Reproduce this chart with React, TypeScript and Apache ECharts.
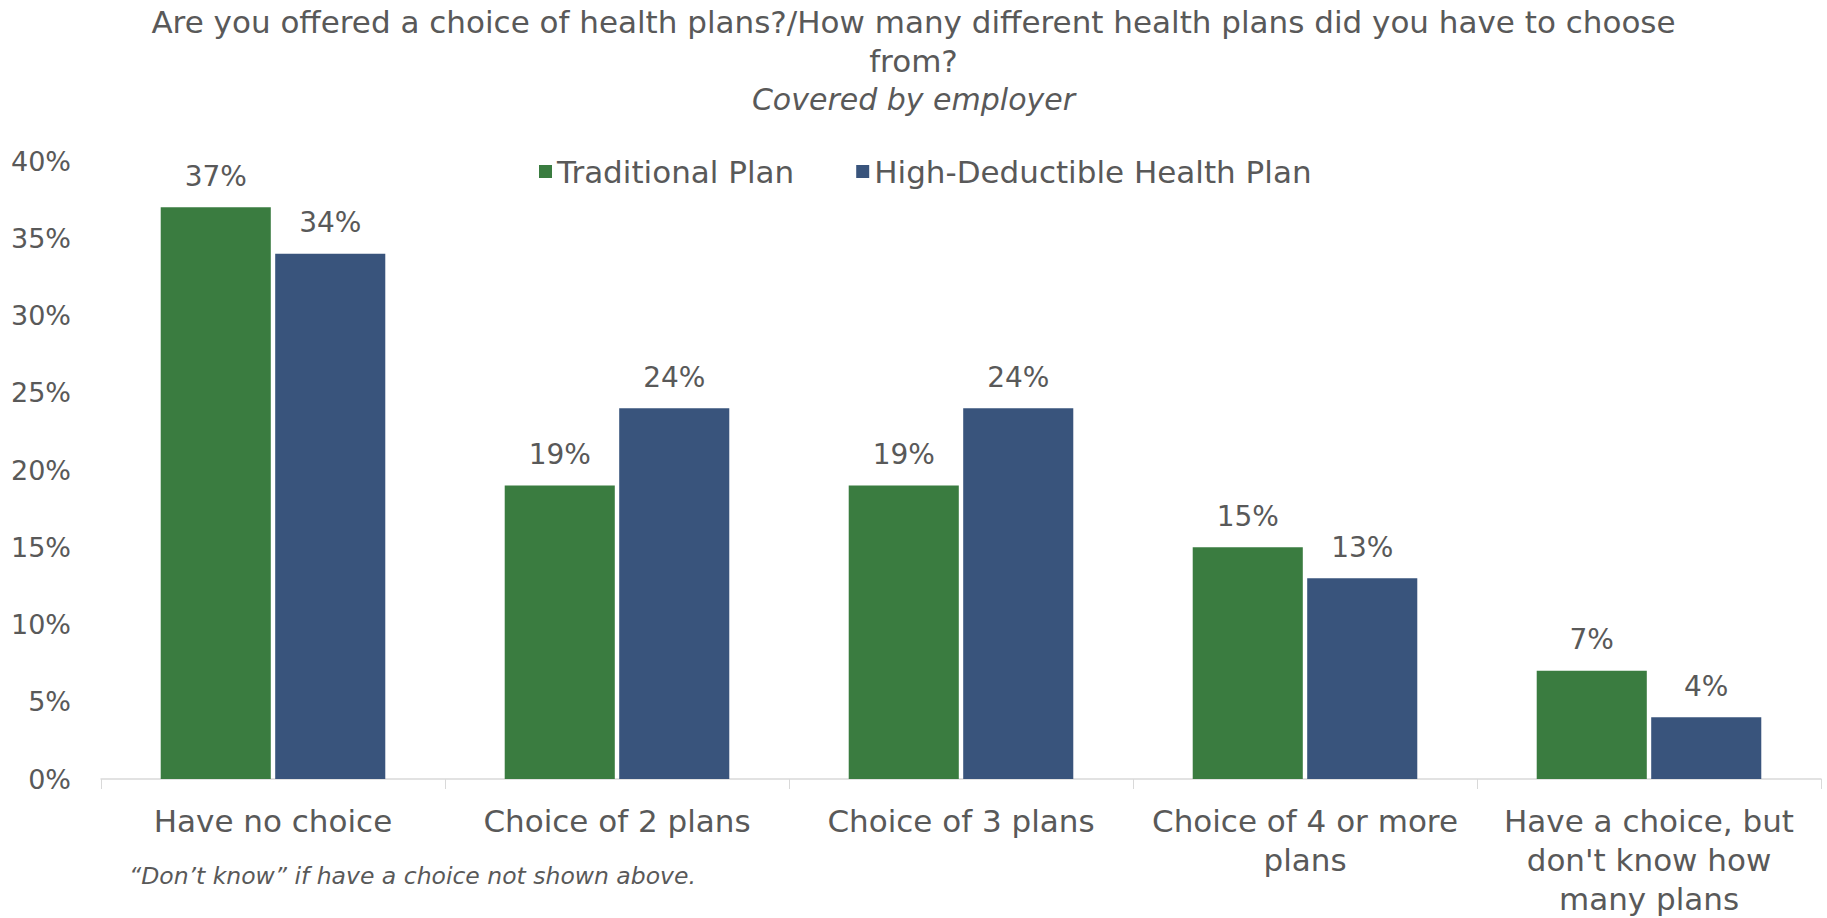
import React, { useEffect, useRef } from "react";
import * as echarts from "echarts";

const categories = [
  "Have no choice",
  "Choice of 2 plans",
  "Choice of 3 plans",
  "Choice of 4 or more\nplans",
  "Have a choice, but\ndon't know how\nmany plans",
];
const traditional = [37, 19, 19, 15, 7];
const hdhp = [34, 24, 24, 13, 4];
const seriesNames = ["Traditional Plan", "High-Deductible Health Plan"];
const titleText =
  "Are you offered a choice of health plans?/How many different health plans did you have to choose\nfrom?";
const subtitleText = "Covered by employer";
const footnote = "\u201cDon\u2019t know\u201d if have a choice not shown above.";

const FONT = "DejaVu Sans";
const GRAY = "#595959";

export default function App() {
  const ref = useRef<HTMLDivElement>(null);
  useEffect(() => {
    const chart = echarts.init(ref.current!, null, { renderer: "svg" });
    chart.setOption({
      animation: false,
      textStyle: { fontFamily: FONT, color: GRAY },
      title: {
        text: titleText,
        subtext: subtitleText,
        left: "center",
        top: -3,
        itemGap: 0,
        textStyle: { fontFamily: FONT, fontSize: 31, fontWeight: "normal", color: GRAY, lineHeight: 39 },
        subtextStyle: { fontFamily: FONT, fontSize: 30, fontStyle: "italic", color: GRAY, lineHeight: 39 },
      },
      legend: {
        left: 534,
        top: 151,
        itemWidth: 13,
        itemHeight: 13,
        itemGap: 62,
        icon: "rect",
        textStyle: { fontFamily: FONT, fontSize: 31, color: GRAY },
        data: seriesNames,
      },
      grid: { left: 101, right: 6, top: 161, bottom: 138 },
      xAxis: {
        type: "category",
        data: categories,
        axisLine: { lineStyle: { color: "#D9D9D9", width: 1.5 } },
        axisTick: { show: true, length: 10, lineStyle: { color: "#D9D9D9" } },
        axisLabel: { fontFamily: FONT, fontSize: 31, color: GRAY, margin: 22, lineHeight: 39, interval: 0 },
      },
      yAxis: {
        type: "value",
        min: 0,
        max: 40,
        interval: 5,
        splitLine: { show: false },
        axisLine: { show: false },
        axisLabel: { fontFamily: FONT, fontSize: 27, color: GRAY, margin: 30, formatter: "{value}%" },
      },
      series: [
        {
          name: seriesNames[0],
          type: "bar",
          data: traditional,
          barWidth: "32%",
          barGap: "4%",
          itemStyle: { color: "#3A7C40" },
          label: { show: true, position: "top", distance: 17, formatter: "{c}%", fontFamily: FONT, fontSize: 28, color: GRAY },
        },
        {
          name: seriesNames[1],
          type: "bar",
          data: hdhp,
          barWidth: "32%",
          barGap: "4%",
          itemStyle: { color: "#39547C" },
          label: { show: true, position: "top", distance: 17, formatter: "{c}%", fontFamily: FONT, fontSize: 28, color: GRAY },
        },
      ],
      graphic: [
        {
          type: "text",
          left: 129,
          top: 864,
          style: { text: footnote, fontFamily: FONT, fontSize: 23.5, fontStyle: "italic", fill: GRAY },
        },
      ],
    });
    return () => chart.dispose();
  }, []);
  return (
    <div
      ref={ref}
      style={{ position: "fixed", left: 0, top: 0, width: 1827, height: 918, background: "#fff" }}
    />
  );
}
